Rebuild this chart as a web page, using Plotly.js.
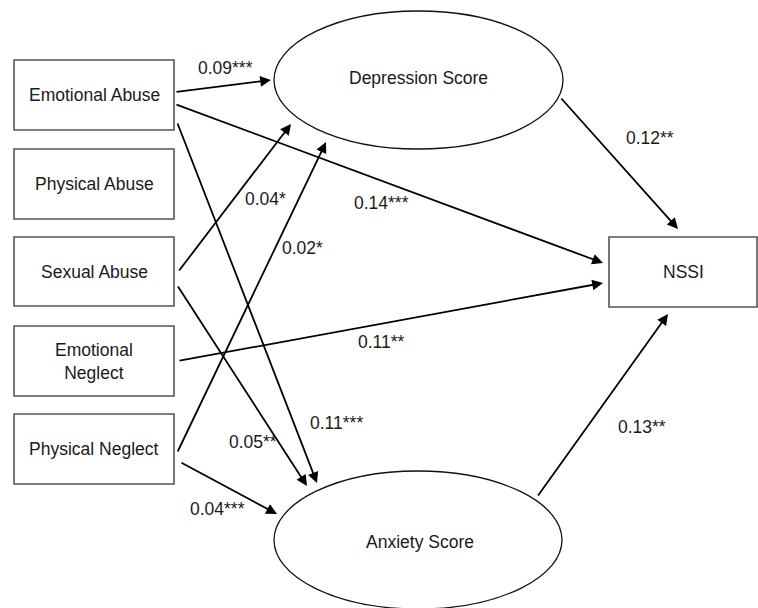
<!DOCTYPE html>
<html>
<head>
<meta charset="utf-8">
<script src="https://cdn.plot.ly/plotly-3.0.1.min.js"></script>
<style>html,body{margin:0;padding:0;background:#fff;}#chart{width:758px;height:608px;}</style>
</head>
<body>
<div id="chart"></div>
<script>
// ---- data ----
const observedNodes = ["Emotional Abuse", "Physical Abuse", "Sexual Abuse", "Emotional<br>Neglect", "Physical Neglect"];
const latentNodes = ["Depression Score", "Anxiety Score"];
const outcomeNode = "NSSI";
const edgeFrom = ["Emotional Abuse", "Emotional Abuse", "Emotional Abuse", "Sexual Abuse", "Sexual Abuse", "Physical Neglect", "Emotional Neglect", "Physical Neglect", "Depression Score", "Anxiety Score"];
const edgeTo   = ["Depression Score", "NSSI", "Anxiety Score", "Depression Score", "Anxiety Score", "Depression Score", "NSSI", "Anxiety Score", "NSSI", "NSSI"];
const edgeCoef = [0.09, 0.14, 0.11, 0.04, 0.05, 0.02, 0.11, 0.04, 0.12, 0.13];
const edgeSig  = ["***", "***", "***", "*", "**", "*", "**", "***", "**", "**"];

// ---- geometry (pixels) ----
const boxX = [14, 174];
const boxY = [[60,130],[149,219],[237,306],[326,396],[414,484]];
const ellipses = [{x0:274,x1:563,y0:11,y1:149,ty:78,tx:418},{x0:274,x1:562,y0:471,y1:609,ty:542,tx:420}];
const nssiBox = {x0:609,x1:757,y0:237,y1:307};
const edgeStart = [[175,92],[175,104],[177,122],[178,272],[177,285],[177,453],[178,361],[180,462],[560,97],[537,497]];
const edgeEnd   = [[271,80],[603,263],[317,483],[291,124],[307,486],[326,142],[603,283],[277,514],[678,229],[668,314]];
const labelPos  = [[225,68],[381,203],[336,423],[265,199],[253,442],[302,248],[381,342],[217,509],[650,138],[642,427]];

const FONT = {family: "Liberation Sans, Arial, sans-serif", size: 17.5, color: "#1a1a1a"};
const shapes = [];
const annotations = [];

observedNodes.forEach((n, i) => {
  shapes.push({type:"rect", xref:"x", yref:"y", x0:boxX[0], x1:boxX[1], y0:boxY[i][0], y1:boxY[i][1], line:{color:"#555", width:1.6}, fillcolor:"rgba(0,0,0,0)"});
  annotations.push({x:(boxX[0]+boxX[1])/2, y:(boxY[i][0]+boxY[i][1])/2, xref:"x", yref:"y", text:n, showarrow:false, font:FONT, align:"center"});
});
latentNodes.forEach((n, i) => {
  const e = ellipses[i];
  shapes.push({type:"circle", xref:"x", yref:"y", x0:e.x0, x1:e.x1, y0:e.y0, y1:e.y1, line:{color:"#111", width:1.3}});
  annotations.push({x:e.tx, y:e.ty, xref:"x", yref:"y", text:n, showarrow:false, font:FONT});
});
shapes.push({type:"rect", xref:"x", yref:"y", x0:nssiBox.x0, x1:nssiBox.x1, y0:nssiBox.y0, y1:nssiBox.y1, line:{color:"#555", width:1.6}});
annotations.push({x:(nssiBox.x0+nssiBox.x1)/2, y:(nssiBox.y0+nssiBox.y1)/2, xref:"x", yref:"y", text:outcomeNode, showarrow:false, font:FONT});

edgeCoef.forEach((c, i) => {
  annotations.push({x:edgeEnd[i][0], y:edgeEnd[i][1], ax:edgeStart[i][0], ay:edgeStart[i][1], xref:"x", yref:"y", axref:"x", ayref:"y",
    text:"", showarrow:true, arrowhead:2, arrowsize:1.2, arrowwidth:1.8, arrowcolor:"#000", standoff:0});
  annotations.push({x:labelPos[i][0], y:labelPos[i][1], xref:"x", yref:"y", text:c.toFixed(2) + edgeSig[i], showarrow:false, font:FONT});
});

const layout = {
  width:758, height:608, margin:{l:0,r:0,t:0,b:0},
  paper_bgcolor:"#fff", plot_bgcolor:"#fff",
  xaxis:{range:[0,758], visible:false, fixedrange:true},
  yaxis:{range:[608,0], visible:false, fixedrange:true},
  shapes:shapes, annotations:annotations, showlegend:false
};
Plotly.newPlot("chart", [{x:[0], y:[0], mode:"markers", marker:{opacity:0}, hoverinfo:"skip"}], layout, {staticPlot:true, displayModeBar:false});
</script>
</body>
</html>
